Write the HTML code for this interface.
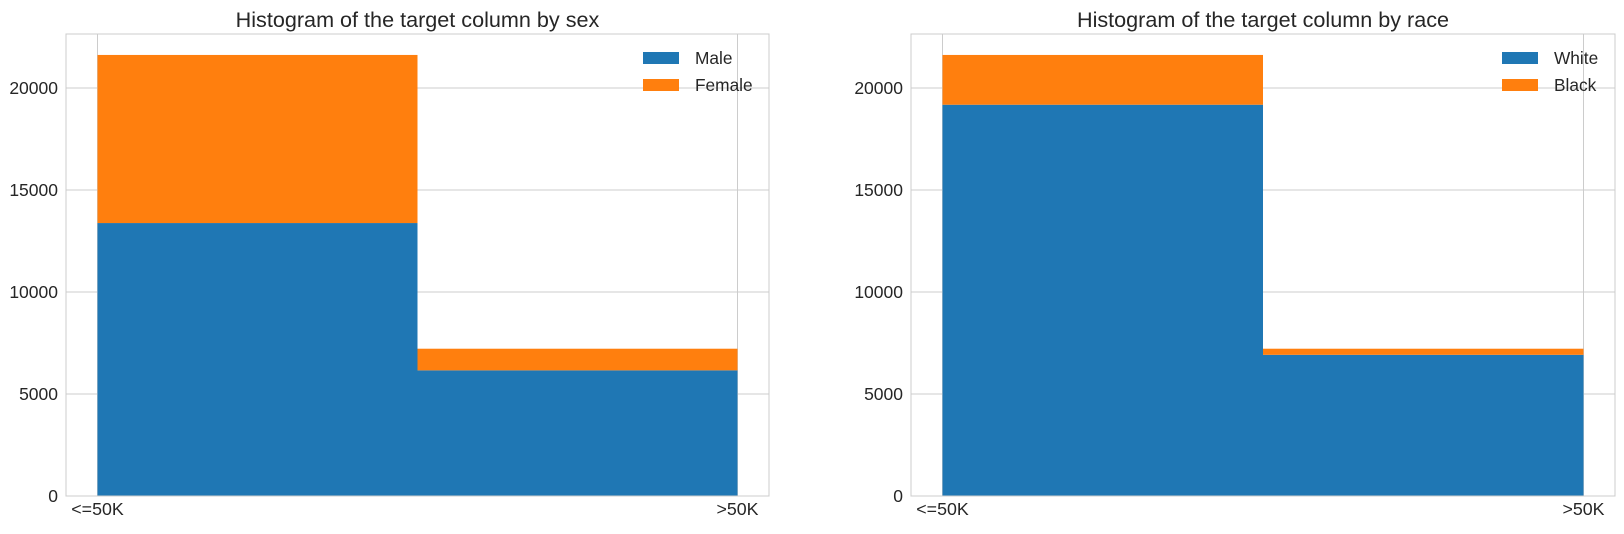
<!DOCTYPE html>
<html><head><meta charset="utf-8"><style>
body{margin:0;background:#fff;}
svg text{font-family:"Liberation Sans",Arial,sans-serif;fill:#262626;}
</style></head><body>
<svg id="c" width="1624" height="529" xmlns="http://www.w3.org/2000/svg"></svg>
<script>
const categories = ["<=50K", ">50K"];
const sexMale = [13380, 6160];
const sexFemale = [8240, 1060];
const raceWhite = [19180, 6920];
const raceBlack = [2440, 300];
const yTicks = [0, 5000, 10000, 15000, 20000];
const panels = [
  {title:"Histogram of the target column by sex", s1:sexMale, s2:sexFemale, n1:"Male", n2:"Female", x0:66, x1:769, key:"sex", lgOff:126},
  {title:"Histogram of the target column by race", s1:raceWhite, s2:raceBlack, n1:"White", n2:"Black", x0:911, x1:1615, key:"race", lgOff:113}
];
const svg = document.getElementById('c');
const NS = "http://www.w3.org/2000/svg";
function mk(tag, attrs, parent){const e=document.createElementNS(NS,tag);for(const k in attrs)e.setAttribute(k,attrs[k]);(parent||svg).appendChild(e);return e;}
const yTop=34, yBot=496;
function yS(v){return 496 - v*0.0204;}
panels.forEach(p=>{
  const g=mk('g',{});
  
  
  const pad=31.5;
  const a=p.x0+pad, b=p.x1-pad;
  function xS(i){return a + (b-a)*i/(categories.length-1);}
  yTicks.forEach(t=>{
    const l=mk('line',{x1:p.x0,x2:p.x1,y1:yS(t),y2:yS(t),stroke:'#cccccc','stroke-width':1},g);
    
    
    const tx=mk('text',{x:p.x0-8,y:yS(t)+6,'text-anchor':'end','font-size':17.5},g);
    tx.textContent=t;
    
    
  });
  categories.forEach((c,i)=>{
    const l=mk('line',{x1:xS(i),x2:xS(i),y1:yTop,y2:yBot,stroke:'#cccccc','stroke-width':1},g);
    
    
    const tx=mk('text',{x:xS(i),y:515,'text-anchor':'middle','font-size':17.8},g);
    tx.textContent=c;
    
    
  });
  const bw=(b-a)/2;
  for(let i=0;i<categories.length;i++){
    const bx=a+bw*i;
    const r1=mk('rect',{x:bx,y:yS(p.s1[i]),width:bw,height:yS(0)-yS(p.s1[i]),fill:'#1f77b4'},g);
    
    
    const top=p.s1[i]+p.s2[i];
    const r2=mk('rect',{x:bx,y:yS(top),width:bw,height:yS(p.s1[i])-yS(top),fill:'#ff7f0e'},g);
    
    
  }
  const fr=mk('rect',{x:p.x0,y:yTop,width:p.x1-p.x0,height:yBot-yTop,fill:'none',stroke:'#cccccc','stroke-width':1},g);
  
  
  const tt=mk('text',{x:(p.x0+p.x1)/2,y:27,'text-anchor':'middle','font-size':21.6},g);
  tt.textContent=p.title;
  
  
  const lx=p.x1-p.lgOff;
  [[p.n1,'#1f77b4',52],[p.n2,'#ff7f0e',79]].forEach(([n,col,y])=>{
    const r=mk('rect',{x:lx,y:y,width:36,height:12,fill:col},g);
    
    
    const t=mk('text',{x:lx+52,y:y+12,'font-size':17.3},g);
    t.textContent=n;
    
    
  });
});
</script>
</body></html>
